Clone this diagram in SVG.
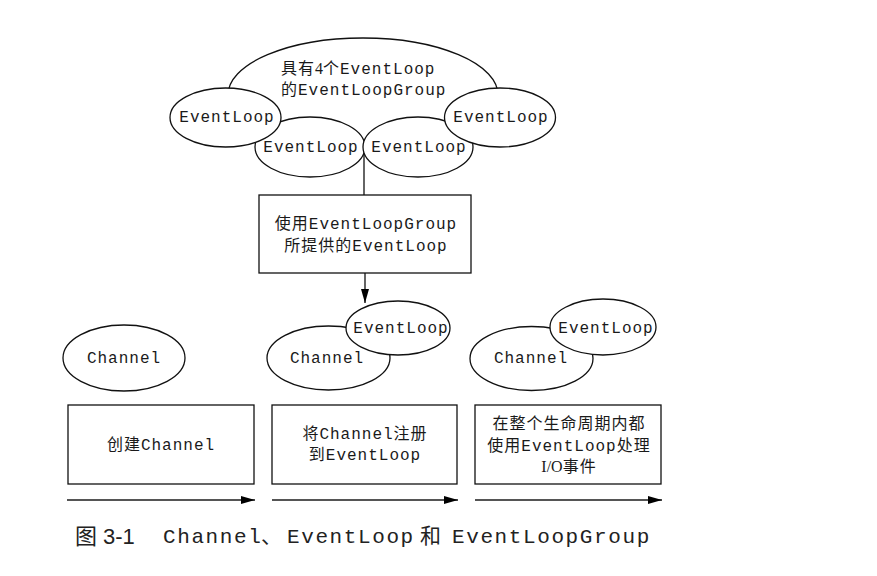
<svg xmlns="http://www.w3.org/2000/svg" width="877" height="576" viewBox="0 0 877 576">
<defs>
<style>
.sh{fill:#fff;stroke:#111;stroke-width:1.3}
.m{font-family:"Liberation Mono","Noto Sans CJK SC",monospace;font-size:16px;letter-spacing:1px;fill:#1a1a1a}
.c{text-anchor:middle}
.s{font-family:"Liberation Serif","Noto Sans CJK SC",serif;letter-spacing:0}
.ln{stroke:#111;stroke-width:1.3;fill:none}
.tl{stroke:#555;stroke-width:2;fill:none}
.cap{font-family:"Liberation Mono","Noto Sans CJK SC",monospace;font-size:21px;letter-spacing:1.6px;fill:#222}
</style>
<marker id="ah" viewBox="0 0 14 8" refX="14" refY="4" markerWidth="14" markerHeight="8" markerUnits="userSpaceOnUse" orient="auto">
<path d="M0,0 L14,4 L0,8 Z" fill="#000"/>
</marker>
</defs>
<rect width="877" height="576" fill="#fff"/>
<g id="connectors">
<line class="ln" x1="364" y1="150" x2="364" y2="195"/>
<line class="ln" x1="365" y1="273" x2="365" y2="303" marker-end="url(#ah)"/>
<line class="tl" x1="67" y1="500" x2="255" y2="500" marker-end="url(#ah)"/>
<line class="tl" x1="272" y1="500" x2="458" y2="500" marker-end="url(#ah)"/>
<line class="tl" x1="475" y1="500" x2="662" y2="500" marker-end="url(#ah)"/>
</g>
<g id="group">
<ellipse class="sh" cx="363" cy="95" rx="135" ry="57"/>
<text class="m" x="281" y="74">具有<tspan class="s">4</tspan>个EventLoop</text>
<text class="m" x="281" y="95">的EventLoopGroup</text>
</g>
<g id="el-mid-left">
<ellipse class="sh" cx="310" cy="147" rx="55" ry="30"/>
<text class="m c" x="311" y="152">EventLoop</text>
</g>
<g id="el-mid-right">
<ellipse class="sh" cx="418" cy="147" rx="55" ry="30"/>
<text class="m c" x="419" y="152">EventLoop</text>
</g>
<g id="el-left">
<ellipse class="sh" cx="225.5" cy="117.5" rx="55.5" ry="29.5"/>
<text class="m c" x="227" y="122">EventLoop</text>
</g>
<g id="el-right">
<ellipse class="sh" cx="500" cy="117.5" rx="55.5" ry="29.5"/>
<text class="m c" x="501" y="122">EventLoop</text>
</g>
<g id="provide-box">
<rect class="sh" x="259" y="195" width="212" height="78"/>
<text class="m c" x="366" y="229">使用EventLoopGroup</text>
<text class="m c" x="366" y="251">所提供的EventLoop</text>
</g>
<g id="channel-1">
<ellipse class="sh" cx="124" cy="358" rx="61" ry="33"/>
<text class="m c" x="124" y="363">Channel</text>
</g>
<g id="channel-2">
<ellipse class="sh" cx="328.5" cy="358" rx="61.5" ry="32"/>
<text class="m c" x="327" y="363">Channel</text>
</g>
<g id="el-2">
<ellipse class="sh" cx="398" cy="328" rx="52" ry="27"/>
<text class="m c" x="401" y="333">EventLoop</text>
</g>
<g id="channel-3">
<ellipse class="sh" cx="531.5" cy="358.5" rx="61.5" ry="32"/>
<text class="m c" x="531" y="363">Channel</text>
</g>
<g id="el-3">
<ellipse class="sh" cx="603" cy="327" rx="53" ry="28"/>
<text class="m c" x="606" y="333">EventLoop</text>
</g>
<g id="step-1">
<rect class="sh" x="68" y="405" width="186" height="79"/>
<text class="m c" x="161" y="450">创建Channel</text>
</g>
<g id="step-2">
<rect class="sh" x="272" y="405" width="185" height="79"/>
<text class="m c" x="365" y="439">将Channel注册</text>
<text class="m c" x="365" y="460">到EventLoop</text>
</g>
<g id="step-3">
<rect class="sh" x="475" y="405" width="186" height="79"/>
<text class="m c" x="569" y="429">在整个生命周期内都</text>
<text class="m c" x="569" y="451">使用EventLoop处理</text>
<text class="m c" x="569" y="472"><tspan class="s">I/O</tspan>事件</text>
</g>
<g id="caption">
<text x="75" y="544" font-family="'Noto Sans CJK SC',sans-serif" font-size="22" fill="#222">图</text>
<text x="103" y="544" font-family="'Liberation Sans',Arial,sans-serif" font-size="22" fill="#222">3-1</text>
<text class="cap" y="543"><tspan x="163">Channel</tspan><tspan x="261" font-family="'Noto Sans CJK SC',sans-serif" letter-spacing="0">、</tspan><tspan x="287">EventLoop</tspan><tspan x="420" font-family="'Noto Sans CJK SC',sans-serif" letter-spacing="0">和</tspan><tspan x="452">EventLoopGroup</tspan></text>
</g>
</svg>
